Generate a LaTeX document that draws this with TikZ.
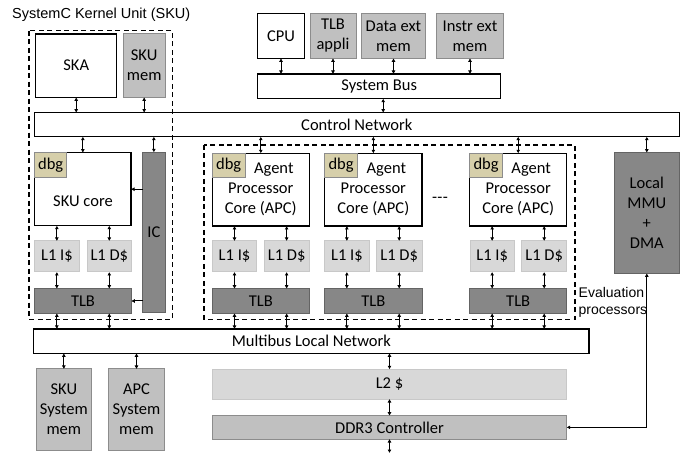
\documentclass[tikz,border=0pt]{standalone}
\usepackage{fontspec}
\setmainfont{Carlito}
\newfontfamily\arialf{Liberation Sans}
\usetikzlibrary{arrows.meta,calc}
\definecolor{cmid}{RGB}{192,192,192}
\definecolor{cmidb}{RGB}{140,140,140}
\definecolor{clight}{RGB}{216,216,216}
\definecolor{clightb}{RGB}{200,200,200}
\definecolor{cdark}{RGB}{135,135,135}
\definecolor{cdarkb}{RGB}{100,100,100}
\definecolor{cdbg}{RGB}{214,207,170}
\newcommand\mybox[7]{\node[#1, minimum width={(#5-#3)*1pt}, minimum height={(#6-#4)*1pt}] (#2) at ({(#3+#5)/2},{(#4+#6)/2}) {#7};}
\tikzset{
  base/.style={inner sep=0pt, outer sep=0pt, align=center, font=\fontsize{16.5}{20}\selectfont},
  wbox/.style={base, draw=black, line width=1.3pt, fill=white},
  gbox/.style={base, draw=cmidb, line width=1pt, fill=cmid},
  lbox/.style={base, draw=clightb, line width=1pt, fill=clight},
  dbox/.style={base, draw=cdarkb, line width=1pt, fill=cdark},
  dbgbox/.style={base, draw=cmidb, line width=1pt, fill=cdbg},
  dashbox/.style={draw=black, line width=1.2pt, dash pattern=on 5pt off 3.5pt},
  dbl/.style={line width=1pt, {Latex[length=3.5pt,width=4pt]}-{Latex[length=3.5pt,width=4pt]}},
  sgl/.style={line width=1pt, -{Latex[length=3.5pt,width=4pt]}},
  lbl/.style={inner sep=0pt, font=\fontsize{16.5}{20}\selectfont},
}
\begin{document}
\begin{tikzpicture}[x=1pt,y=-1pt]
\useasboundingbox (0,0) rectangle (691,454);
% title
\node[inner sep=0pt, anchor=west, font=\arialf\fontsize{14.5}{17}\selectfont] (title) at (12,15) {SystemC Kernel Unit (SKU)};
% top row
\mybox{wbox}{ska}{35.7}{34}{116.7}{97.3}{SKA}
\mybox{gbox}{skumem}{123.3}{34}{165}{97.3}{SKU\\mem}
\mybox{wbox}{cpu}{257.7}{13.3}{304.3}{58.3}{CPU}
\mybox{gbox}{tlbapp}{310}{13.3}{356}{58.3}{TLB\\appli}
\mybox{gbox}{dataext}{361.7}{13.3}{425.3}{58.3}{Data ext\\mem}
\mybox{gbox}{instrext}{436.7}{13.3}{503.3}{58.3}{Instr ext\\mem}
\mybox{wbox}{sysbus}{257.7}{74}{500.7}{98.7}{System Bus}
\mybox{wbox}{ctrl}{34.3}{112.7}{679.3}{136.7}{Control Network}
% SKU
\mybox{wbox}{core}{34.7}{152.7}{131}{225.7}{}
\node[lbl] (corelbl) at (83,201) {SKU core};
\mybox{dbgbox}{dbg0}{34.7}{152.7}{66.7}{177.3}{dbg}
\mybox{dbox}{ic}{142.7}{152.3}{165}{312.3}{IC}
\mybox{lbox}{l1i0}{34.7}{241}{79}{272}{L1 I\$}
\mybox{lbox}{l1d0}{87.3}{241}{131.3}{272}{L1 D\$}
\mybox{dbox}{tlb0}{34.7}{288.7}{131.3}{313.3}{TLB}
% APCs
\mybox{wbox}{apc1}{212.3}{153.3}{309.3}{226}{\hspace*{26pt}Agent\\Processor\\Core (APC)}
\mybox{dbgbox}{dbg1}{212.3}{153.3}{245}{177.3}{dbg}
\mybox{lbox}{l1i1}{212.3}{241}{256.7}{272}{L1 I\$}
\mybox{lbox}{l1d1}{264}{241}{309.3}{272}{L1 D\$}
\mybox{dbox}{tlb1}{212.3}{288.7}{309.3}{313.3}{TLB}
\mybox{wbox}{apc2}{324.7}{153.3}{422}{226}{\hspace*{26pt}Agent\\Processor\\Core (APC)}
\mybox{dbgbox}{dbg2}{324.7}{153.3}{357.4}{177.3}{dbg}
\mybox{lbox}{l1i2}{324.7}{241}{369}{272}{L1 I\$}
\mybox{lbox}{l1d2}{376.4}{241}{422}{272}{L1 D\$}
\mybox{dbox}{tlb2}{324.7}{288.7}{422}{313.3}{TLB}
\mybox{wbox}{apc3}{469.7}{153.3}{566.7}{226}{\hspace*{26pt}Agent\\Processor\\Core (APC)}
\mybox{dbgbox}{dbg3}{469.7}{153.3}{502.4}{177.3}{dbg}
\mybox{lbox}{l1i3}{470}{241}{514.3}{272}{L1 I\$}
\mybox{lbox}{l1d3}{521.7}{241}{566.7}{272}{L1 D\$}
\mybox{dbox}{tlb3}{469.7}{288.7}{566.7}{313.3}{TLB}
\node[lbl] (dots) at (440,200) {-\kern0.3pt{}-\kern0.3pt{}-};
% MMU
\mybox{dbox}{mmu}{614.3}{152.7}{679.3}{273.3}{Local\\MMU\\+\\DMA}
\node[inner sep=0pt, anchor=north west, align=left, font=\arialf\fontsize{14}{16.7}\selectfont] (evallbl) at (578.5,287) {Evaluation\\processors};
% bottom
\mybox{wbox}{multibus}{33.7}{329}{589}{353.3}{Multibus Local Network}
\mybox{lbox}{l2}{212.3}{369.3}{566.7}{399}{L2 \$}
\mybox{gbox}{ddr}{212.3}{415.7}{566.7}{439}{DDR3 Controller}
\mybox{gbox}{skusys}{36}{369}{91.7}{450}{SKU\\System\\mem}
\mybox{gbox}{apcsys}{108.7}{369}{164.3}{450}{APC\\System\\mem}
% dashed groups
\draw[dashbox] (29,30.7) rectangle (172.7,319.3);
\draw[dashbox] (204,145) rectangle (575,319.3);
% connectors top
\draw[dbl] (ska.south) -- (ska.south |- ctrl.north);
\draw[dbl] (skumem.south) -- (skumem.south |- ctrl.north);
\foreach \n in {cpu,tlbapp,dataext,instrext}{\draw[dbl] (\n.south) -- (\n.south |- sysbus.north);}
\draw[dbl] ([xshift=4pt]sysbus.south) -- ([xshift=4pt]sysbus.south |- ctrl.north);
\foreach \n in {core,ic,apc1,apc2,apc3,mmu}{\draw[dbl] (\n.north |- ctrl.south) -- (\n.north);}
% cores to caches to TLBs to multibus
\foreach \c/\t/\k in {l1i0/tlb0/core,l1d0/tlb0/core,l1i1/tlb1/apc1,l1d1/tlb1/apc1,l1i2/tlb2/apc2,l1d2/tlb2/apc2,l1i3/tlb3/apc3,l1d3/tlb3/apc3}{
  \draw[dbl] (\c.north |- \k.south) -- (\c.north);
  \draw[dbl] (\c.south) -- (\c.south |- \t.north);
  \draw[dbl] (\c.south |- \t.south) -- (\c.south |- multibus.north);
}
\draw[sgl] (ic.west |- core.east) -- (core.east);
\draw[sgl] (ic.west |- tlb0.east) -- (tlb0.east);
% bottom connectors
\draw[dbl] (skusys.north |- multibus.south) -- (skusys.north);
\draw[dbl] (apcsys.north |- multibus.south) -- (apcsys.north);
\draw[dbl] (l2.north |- multibus.south) -- (l2.north);
\draw[dbl] (l2.south) -- (ddr.north);
\coordinate (ddrout) at ([yshift=-14pt]ddr.south);
\draw[dbl] (ddr.south) -- (ddrout);
\draw[dbl] (mmu.south) |- (ddr.east);
\end{tikzpicture}
\end{document}
